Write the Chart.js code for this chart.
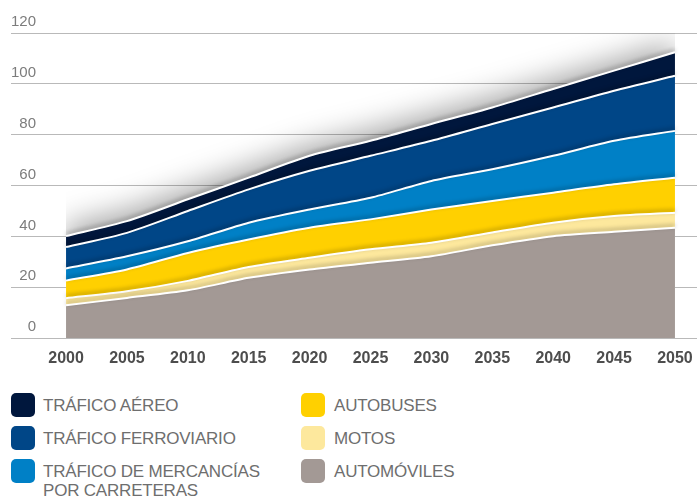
<!DOCTYPE html>
<html lang="es">
<head>
  <meta charset="UTF-8" />
  <title>Tráfico por modo de transporte 2000–2050</title>
  <script src="https://cdn.jsdelivr.net/npm/chart.js@4.4.0/dist/chart.umd.min.js"></script>
  <style>
    *, *::before, *::after { box-sizing: border-box; margin: 0; padding: 0; }
    body { width: 697px; height: 498px; background: #fff; font-family: 'Liberation Sans', Arial, sans-serif; position: relative; overflow: hidden; }
    .chart-box { position: absolute; left: 0; top: 0; width: 697px; height: 386px; }

    /* Legend */
    .item { position: absolute; height: 24px; }
    .swatch { position: absolute; left: 0; top: 0; width: 24px; height: 24px; border-radius: 5px; }
    .label {
      position: absolute; top: 3px; white-space: nowrap;
      font-size: 17px; line-height: 19px; color: #6e6e6e; letter-spacing: -0.2px;
    }
  </style>
</head>
<body>

<div class="chart-box"><canvas id="chart"></canvas></div>

<div id="legend"></div>

<script>
const years       = [2000, 2005, 2010, 2015, 2020, 2025, 2030, 2035, 2040, 2045, 2050];
const automoviles = [12.9, 15.8, 18.8, 23.7, 27.0, 29.6, 32.2, 36.5, 40.1, 41.8, 43.4];
const motos       = [2.8, 2.6, 3.7, 4.3, 4.6, 5.3, 5.3, 5.0, 5.3, 6.2, 5.9];
const autobuses   = [6.9, 8.6, 11.0, 10.8, 11.8, 11.8, 13.1, 12.4, 11.8, 12.5, 13.8];
const mercancias  = [4.8, 5.2, 4.6, 6.6, 7.2, 8.5, 11.2, 12.5, 14.5, 17.1, 18.4];
const ferroviario = [8.4, 9.2, 11.9, 13.1, 15.2, 16.5, 15.8, 17.8, 19.0, 19.7, 21.7];
const aereo       = [4.3, 4.6, 4.6, 4.6, 5.9, 5.9, 6.6, 6.5, 7.3, 7.9, 9.2];

const yTicks = [0, 20, 40, 60, 80, 100, 120];

// bottom of the stack first
const series = [
  { label: 'AUTOMÓVILES',                        data: automoviles, color: '#a39995' },
  { label: 'MOTOS',                              data: motos,       color: '#fde89d' },
  { label: 'AUTOBUSES',                          data: autobuses,   color: '#ffd000' },
  { label: 'TRÁFICO DE MERCANCÍAS<br>POR CARRETERAS', data: mercancias, color: '#0080c6' },
  { label: 'TRÁFICO FERROVIARIO',                data: ferroviario, color: '#004687' },
  { label: 'TRÁFICO AÉREO',                      data: aereo,       color: '#00173d' },
];

// legend layout: [series index, left, top]
const legendSlots = [
  [5, 11, 393], [4, 11, 426], [3, 11, 459],
  [2, 301, 393], [1, 301, 426], [0, 301, 459],
];
document.getElementById('legend').innerHTML = legendSlots.map(([i, left, top]) => `
  <div class="item" style="left:${left}px; top:${top}px;">
    <div class="swatch" style="background:${series[i].color}"></div>
    <div class="label" style="left:${left === 11 ? 32 : 33}px">${series[i].label}</div>
  </div>`).join('');

// soft grey glow above the top of the stack
const topGlow = {
  id: 'topGlow',
  beforeDatasetsDraw(chart) {
    const meta = chart.getDatasetMeta(series.length - 1);
    const pts = meta.data;
    if (!pts.length) return;
    const { ctx, chartArea } = chart;
    const x0 = pts[0].x, x1 = pts[pts.length - 1].x;
    ctx.save();
    ctx.beginPath();
    ctx.rect(x0, chartArea.top, x1 - x0, chartArea.bottom - chartArea.top);
    ctx.clip();
    ctx.beginPath();
    ctx.moveTo(pts[0].x, pts[0].y);
    pts.forEach(p => ctx.lineTo(p.x, p.y));
    ctx.lineTo(x1, chartArea.bottom);
    ctx.lineTo(x0, chartArea.bottom);
    ctx.closePath();
    ctx.shadowColor = 'rgba(0,0,0,0.36)';
    ctx.shadowBlur = 30;
    ctx.shadowOffsetY = -10;
    ctx.fillStyle = '#fff';
    ctx.fill();
    ctx.restore();
  },
  // small shadow under each white separator line
  beforeDatasetDraw(chart) {
    const ctx = chart.ctx;
    ctx.save();
    ctx.shadowColor = 'rgba(0,0,0,0.35)';
    ctx.shadowBlur = 4;
    ctx.shadowOffsetY = -2;
  },
  afterDatasetDraw(chart) {
    chart.ctx.restore();
  },
};

new Chart(document.getElementById('chart'), {
  type: 'line',
  data: {
    datasets: series.map((s, i) => ({
      label: s.label,
      data: s.data.map((v, k) => ({ x: years[k], y: v })),
      backgroundColor: s.color,
      borderColor: '#fff',
      borderWidth: 2,
      pointRadius: 0,
      tension: 0.25,
      fill: i === 0 ? 'origin' : '-1',
    })),
  },
  plugins: [topGlow],
  options: {
    responsive: true,
    maintainAspectRatio: false,
    animation: false,
    layout: { padding: { left: 11, right: 0, top: 33, bottom: 6.3 } },
    plugins: { legend: { display: false }, tooltip: { enabled: false } },
    scales: {
      x: {
        type: 'linear',
        min: 1995.48,
        max: 2051.81,
        afterBuildTicks: scale => { scale.ticks = years.map(v => ({ value: v })); },
        grid: { display: false, drawTicks: false },
        border: { display: false },
        ticks: {
          padding: 2,
          color: '#4d4d4d',
          font: { family: 'Liberation Sans', size: 16, weight: 'bold', lineHeight: 2.35 },
          callback: v => String(v),
        },
      },
      y: {
        stacked: true,
        min: 0,
        max: 120,
        afterBuildTicks: scale => { scale.ticks = yTicks.map(v => ({ value: v })); },
        grid: { color: '#b9b9b9', lineWidth: 1, drawTicks: false },
        border: { display: false },
        ticks: {
          mirror: true,
          crossAlign: 'far',
          padding: 0,
          labelOffset: -11,
          color: '#7c7c7c',
          font: { family: 'Liberation Sans', size: 15 },
        },
      },
    },
  },
});
</script>
</body>
</html>
